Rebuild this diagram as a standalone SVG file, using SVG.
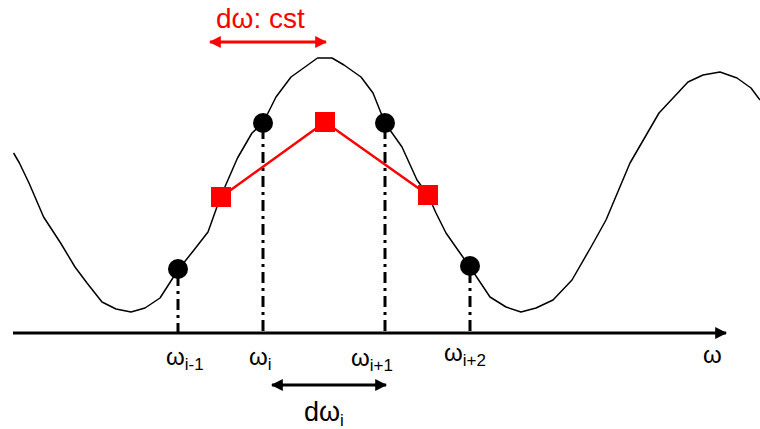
<svg xmlns="http://www.w3.org/2000/svg" width="760" height="429" viewBox="0 0 760 429">
<style>
.t{font-family:"Liberation Sans",Arial,sans-serif;fill:#000}
.sub{font-size:17px}
.w{font-size:24px}
.dd{fill:none;stroke:#000;stroke-width:3;stroke-dasharray:11 5 3 5}
.dot{fill:#000}
.sq{fill:#ff0000}
</style>
<defs>
<marker id="ab" viewBox="0 0 10 10" refX="9" refY="5" markerWidth="4" markerHeight="4" orient="auto-start-reverse" markerUnits="strokeWidth"><path d="M0,0 L10,5 L0,10 z" fill="#000"/></marker>
<marker id="ar" viewBox="0 0 10 10" refX="9" refY="5" markerWidth="4" markerHeight="4" orient="auto-start-reverse" markerUnits="strokeWidth"><path d="M0,0 L10,5 L0,10 z" fill="#ff0000"/></marker>
</defs>
<rect width="760" height="429" fill="#fff"/>
<g id="curve">
<polyline fill="none" stroke="#000" stroke-width="1.5" stroke-linejoin="round" points="13.6,153 19.4,163 29,183 43.6,217 60.6,243 75,267 87,283 102,302 116,309 131,312 145,308 160,298 178,270 194,250 208,232 220.5,197 237.5,158 252,133 263,123 276,97 291,77 305,67 317.5,58 332,58 344,65 361,77 373,93 385,123 402,147 417,180 428,195 436,213 446,233 460,253 470,267 490,297 506,307 521,312 536,308 553,300 572,280 591,247 606,220 630,163 659,113 688,82 703,75 720,72 737,78 751,88 760,100"/>
</g>
<g id="connectors">
<line x1="13" y1="333" x2="726" y2="333" stroke="#000" stroke-width="3" marker-end="url(#ab)"/>
<line class="dd" x1="178" y1="275" x2="178" y2="333"/>
<line class="dd" x1="263" y1="128" x2="263" y2="333"/>
<line class="dd" x1="385" y1="128" x2="385" y2="333"/>
<line class="dd" x1="470" y1="272" x2="470" y2="333"/>
<polyline fill="none" stroke="#ff0000" stroke-width="2.5" points="221,197 325,122 428,195"/>
<line x1="272" y1="385" x2="386" y2="385" stroke="#000" stroke-width="3" marker-start="url(#ab)" marker-end="url(#ab)"/>
<line x1="210" y1="42" x2="326" y2="42" stroke="#ff0000" stroke-width="3" marker-start="url(#ar)" marker-end="url(#ar)"/>
</g>
<g id="points">
<circle class="dot" cx="178" cy="269" r="10"/>
<circle class="dot" cx="263" cy="123" r="10"/>
<circle class="dot" cx="385" cy="123" r="10"/>
<circle class="dot" cx="470" cy="266" r="10"/>
<rect class="sq" x="211" y="187" width="20" height="20"/>
<rect class="sq" x="315" y="112" width="20" height="20"/>
<rect class="sq" x="418" y="185" width="20" height="20"/>
</g>
<g id="labels">
<text class="t" x="166" y="365"><tspan class="w">ω</tspan><tspan class="sub" dy="5">i-1</tspan></text>
<text class="t" x="249" y="365"><tspan class="w">ω</tspan><tspan class="sub" dy="5">i</tspan></text>
<text class="t" x="351" y="366"><tspan class="w">ω</tspan><tspan class="sub" dy="5">i+1</tspan></text>
<text class="t" x="444" y="361"><tspan class="w">ω</tspan><tspan class="sub" dy="5">i+2</tspan></text>
<text class="t w" x="703" y="363">ω</text>
<text class="t" x="304" y="421"><tspan style="font-size:27px">dω</tspan><tspan style="font-size:17px" dy="5">i</tspan></text>
<text x="216" y="28" style="font-family:'Liberation Sans',Arial,sans-serif;font-size:28px;fill:#ff0000">dω: cst</text>
</g>
</svg>
